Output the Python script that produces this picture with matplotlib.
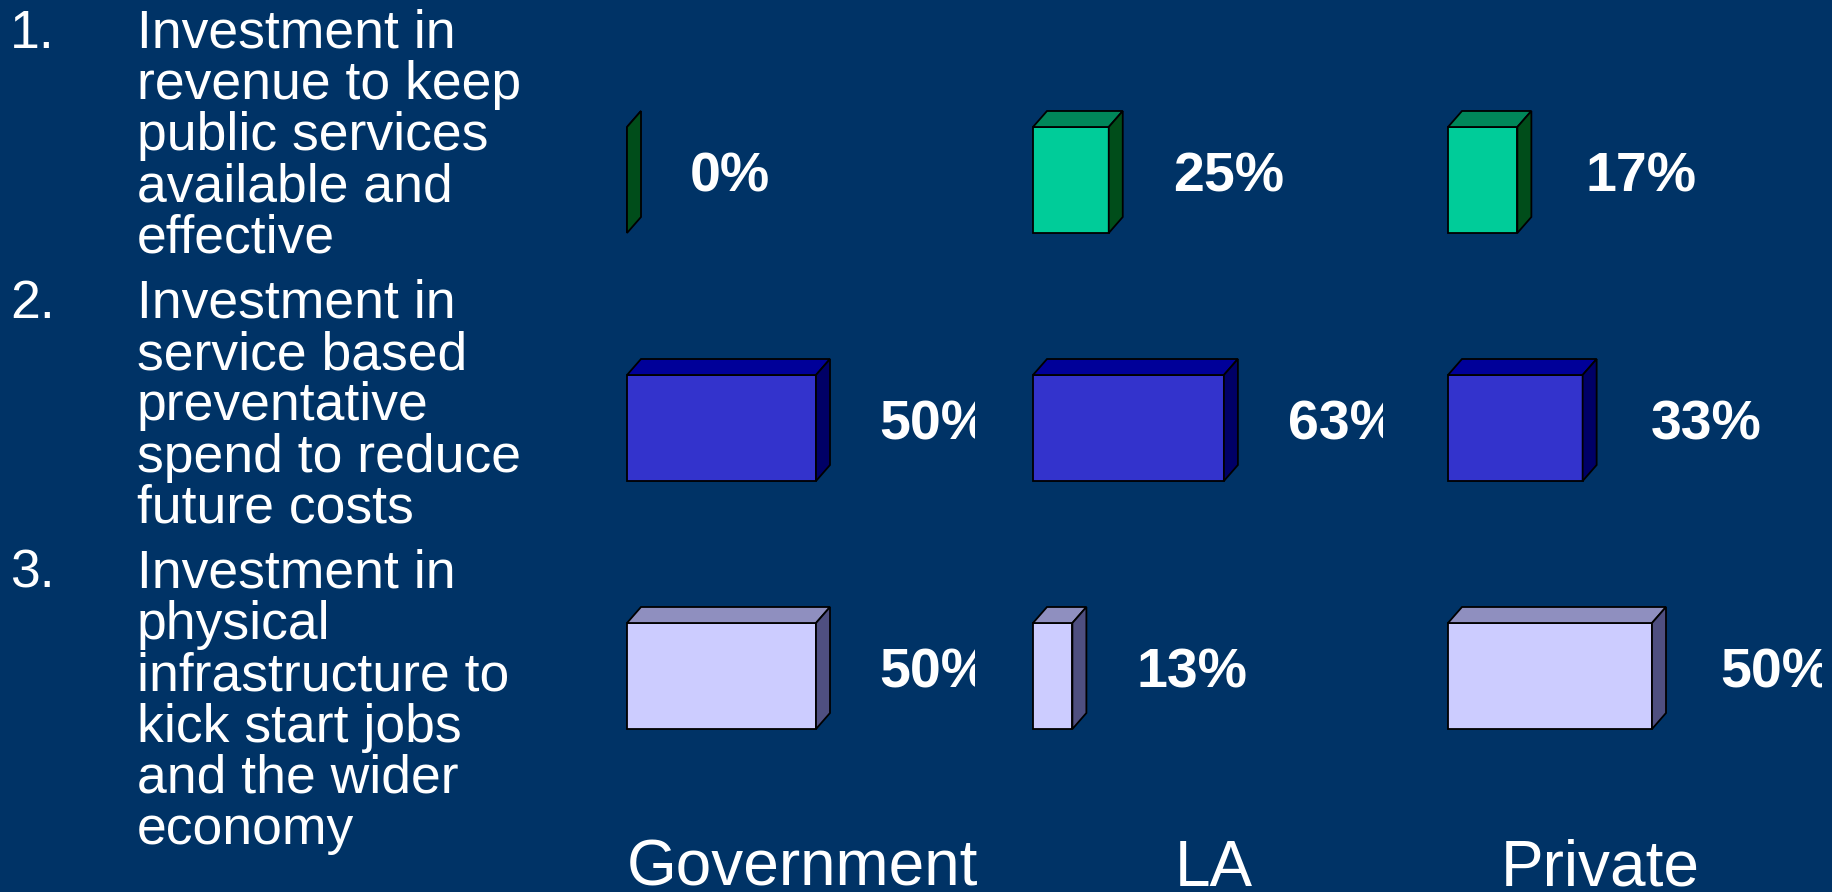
import matplotlib.pyplot as plt
from matplotlib.patches import Polygon

# Figure size in pixels (dpi 100)
W, H = 1833, 892
BG = '#003366'

# Data: share of responses per option, per respondent group (%)
groups = ['Government', 'LA', 'Private']
gov_share = [0, 50, 50]
la_share = [25, 63, 13]
private_share = [17, 33, 50]

# Option texts on the left, one entry per line
option_numbers = ['1.', '2.', '3.']
option_lines = [
    ['Investment in', 'revenue to keep', 'public services', 'available and', 'effective'],
    ['Investment in', 'service based', 'preventative', 'spend to reduce', 'future costs'],
    ['Investment in', 'physical', 'infrastructure to', 'kick start jobs', 'and the wider', 'economy'],
]

# Colours per option row: front, top, side
front_colors = ['#00CC99', '#3333CC', '#CCCCFF']
top_colors = ['#00875A', '#000099', '#8F8FBF']
side_colors = ['#004D1A', '#000066', '#4F4F80']

# Layout (pixels)
bar_left = [627, 1033, 1448]
clip_right = [975, 1383, 1822]
px_per_pct = [3.78, 3.03, 4.08]
label_gap = [49, 50, 54]
group_centers = [802, 1214, 1600]
row_tops = [127, 375, 623]
bar_h = 106
depth_x, depth_y = 14, 16

FONT = 'Liberation Sans'

fig = plt.figure(figsize=(W / 100, H / 100), dpi=100, facecolor=BG)


def fx(x):
    return x / W


def fy(y):
    return 1 - y / H


# Left-hand list of options
line_step = 51.2
item_gap = 14
y = 48
for num, lines in zip(option_numbers, option_lines):
    fig.text(fx(10), fy(y), num, color='white', fontsize=38.5, family=FONT, va='baseline')
    for line in lines:
        fig.text(fx(137), fy(y), line, color='white', fontsize=38.5, family=FONT, va='baseline')
        y += line_step
    y += item_gap

# One small axes per respondent group, y in pixel units (inverted)
y_top_px, y_bot_px = 60, 780
for gi, (name, shares) in enumerate(zip(groups, [gov_share, la_share, private_share])):
    ppu = px_per_pct[gi]
    pad = 12
    ax = fig.add_axes([fx(bar_left[gi] - pad), fy(y_bot_px),
                       (clip_right[gi] - bar_left[gi] + pad) / W, (y_bot_px - y_top_px) / H])
    ax.set_xlim(-pad / ppu, (clip_right[gi] - bar_left[gi]) / ppu)
    ax.set_ylim(y_bot_px, y_top_px)
    ax.axis('off')

    centers = [t + bar_h / 2 for t in row_tops]
    ax.barh(centers, shares, height=bar_h, left=0, color=front_colors,
            edgecolor='black', linewidth=1.3, zorder=2)

    dx = depth_x / ppu
    for ri, v in enumerate(shares):
        top = row_tops[ri]
        bot = top + bar_h
        top_face = [(0, top), (v, top), (v + dx, top - depth_y), (dx, top - depth_y)]
        side_face = [(v, top), (v, bot), (v + dx, bot - depth_y), (v + dx, top - depth_y)]
        ax.add_patch(Polygon(top_face, closed=True, facecolor=top_colors[ri],
                             edgecolor='black', linewidth=1.3, zorder=3))
        ax.add_patch(Polygon(side_face, closed=True, facecolor=side_colors[ri],
                             edgecolor='black', linewidth=1.3, zorder=3))
        mid = (top - depth_y + bot) / 2
        ax.text(v + (depth_x + label_gap[gi]) / ppu, mid + 20, f'{v}%', color='white',
                fontsize=40, fontweight='bold', family=FONT, ha='left', va='baseline',
                clip_on=True)

    fig.text(fx(group_centers[gi]), fy(886), name, color='white', fontsize=46,
             family=FONT, ha='center', va='baseline')

fig.savefig('out.png', dpi=100, facecolor=BG)
